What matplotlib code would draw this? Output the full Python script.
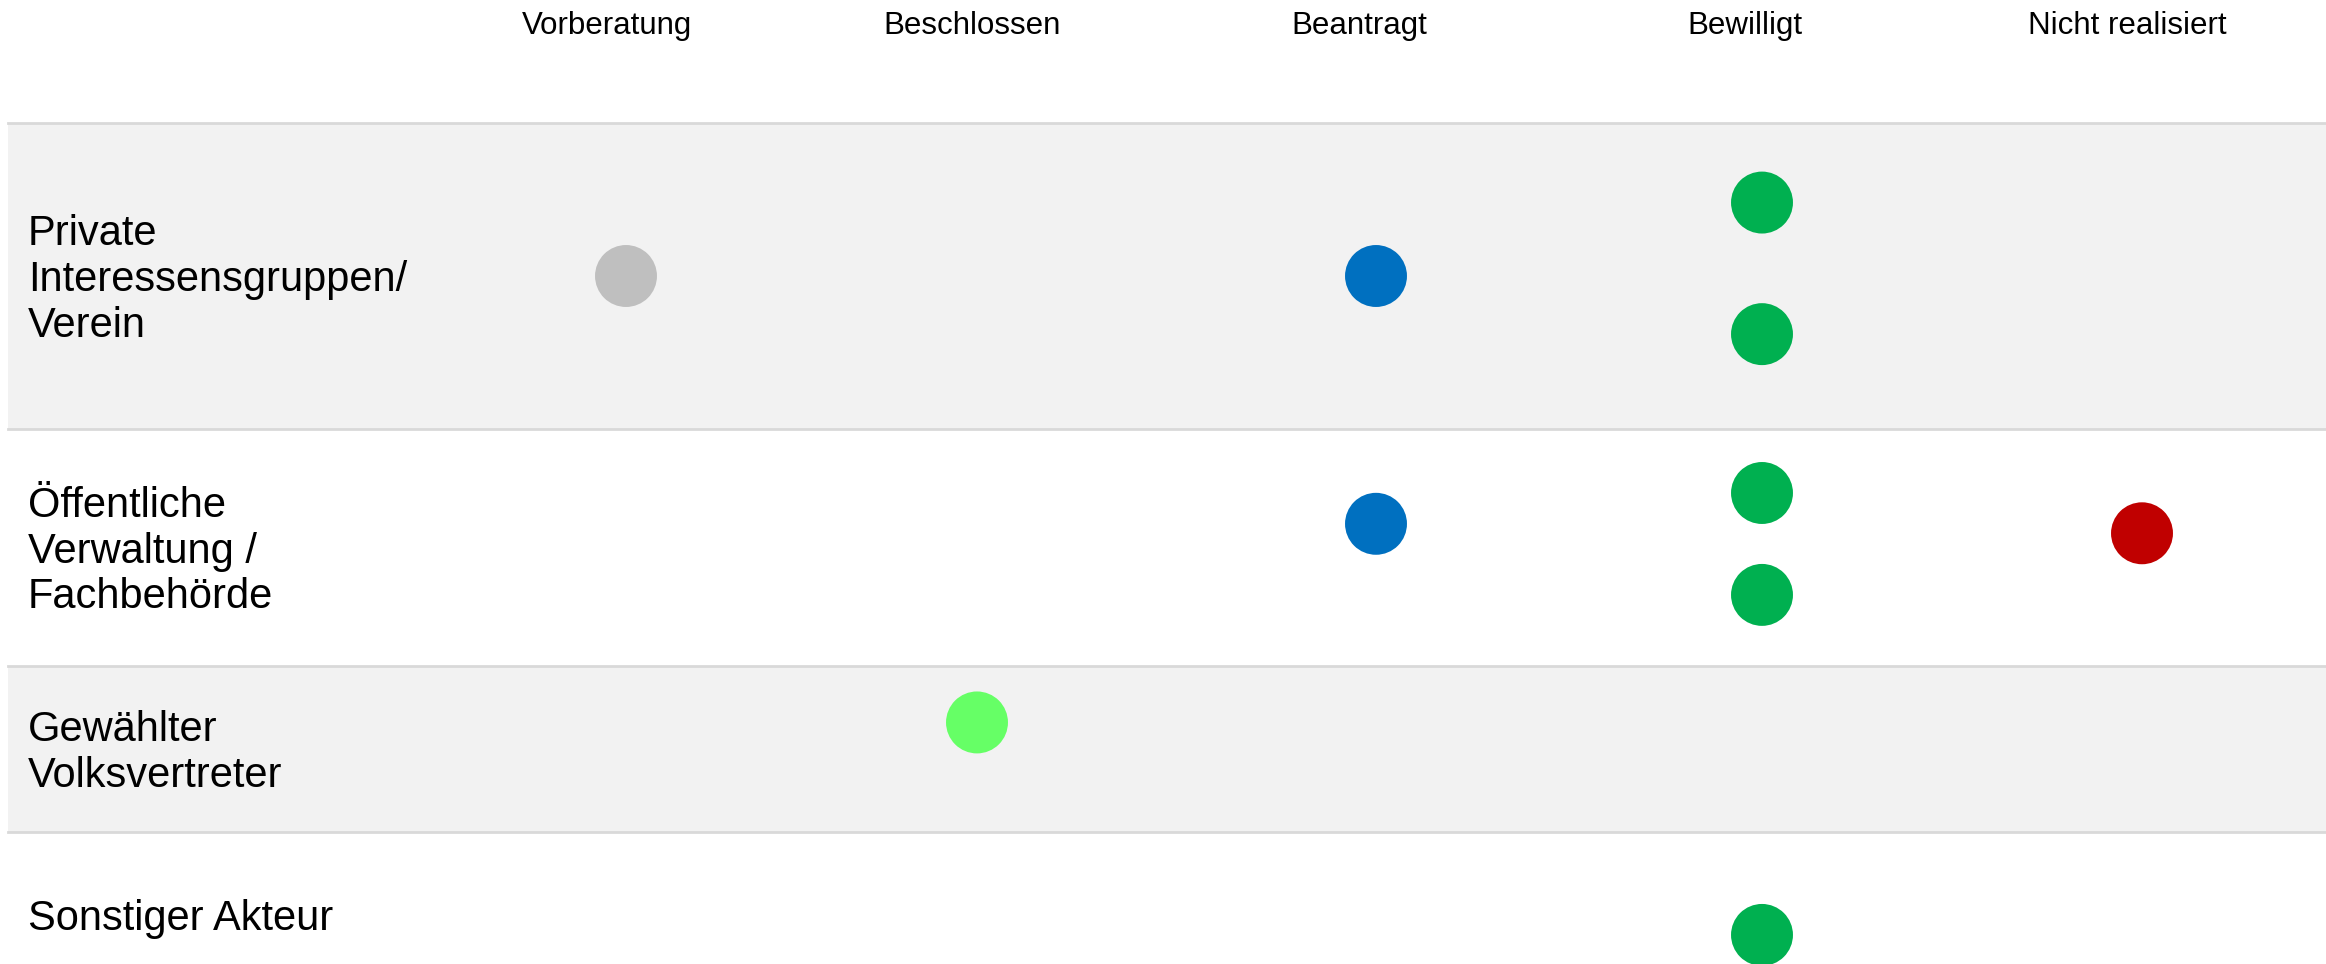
import matplotlib.pyplot as plt
from matplotlib.patches import Rectangle

plt.rcParams['font.family'] = ['Liberation Sans', 'DejaVu Sans']

# data
stages = ['Vorberatung', 'Beschlossen', 'Beantragt', 'Bewilligt', 'Nicht realisiert']
actors = ['Private\nInteressensgruppen/\nVerein',
          'Öffentliche\nVerwaltung /\nFachbehörde',
          'Gewählter\nVolksvertreter',
          'Sonstiger Akteur']
# one entry per project: actor row, stage column, position inside the row (0 = top, 1 = bottom)
dot_actor = [0, 0, 0, 0, 1, 1, 1, 1, 2, 3]
dot_stage = [0, 2, 3, 3, 2, 3, 3, 4, 1, 3]
dot_pos = [0.50, 0.50, 0.26, 0.69, 0.40, 0.27, 0.70, 0.44, 0.34, 0.62]
stage_colors = ['#BFBFBF', '#66FF66', '#0070C0', '#00B050', '#C00000']

# layout (figure pixels)
W, H = 2326, 964
row_top = 123
row_heights = [306, 237, 166, 166]
header_x = [607, 972, 1359, 1745, 2127]
dot_x = [626, 977, 1376, 1762, 2142]

fig = plt.figure(figsize=(W / 100, H / 100), dpi=100)
ax = fig.add_axes([0, 0, 1, 1])
ax.set_xlim(0, W)
ax.set_ylim(H, 0)
ax.axis('off')

tops = [row_top + sum(row_heights[:i]) for i in range(len(row_heights))]
for i, (top, h) in enumerate(zip(tops, row_heights)):
    if i % 2 == 0:
        ax.add_patch(Rectangle((8, top), W, h, facecolor='#F2F2F2',
                               edgecolor='none', zorder=0))
    ax.plot([8, W], [top, top], color='#D9D9D9', lw=2, zorder=1)
    ax.text(28, top + h / 2 + 4, actors[i], fontsize=30,
            ha='left', va='center', linespacing=1.18)

for i, s in enumerate(stages):
    ax.text(header_x[i], 34, s, fontsize=22.5, ha='center', va='baseline')

xs = [dot_x[s] for s in dot_stage]
ys = [tops[a] + p * row_heights[a] for a, p in zip(dot_actor, dot_pos)]
cs = [stage_colors[s] for s in dot_stage]
ax.scatter(xs, ys, s=44.6 ** 2, c=cs, edgecolors='none', zorder=3)

plt.savefig('out.png', dpi=100)
